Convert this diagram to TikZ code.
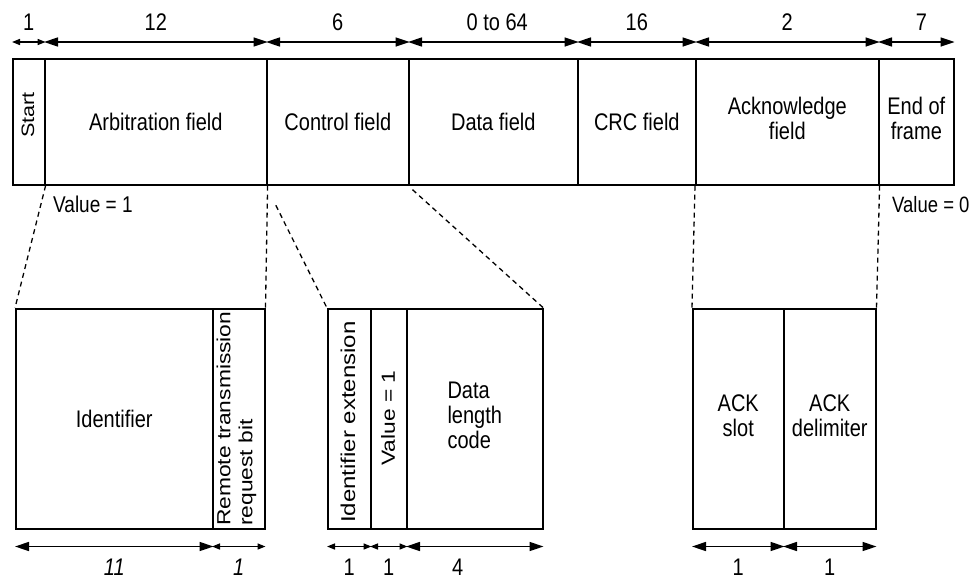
\documentclass[tikz,border=0pt]{standalone}
\usepackage{fontspec}
\setmainfont{Liberation Sans}
\usepackage{graphicx}
\usetikzlibrary{arrows.meta}
\newcommand\vs[1]{\scalebox{1}[1.2]{#1}}
\newcommand\hs[1]{\scalebox{1.2}[1]{#1}}
\newcommand\twol[2]{\vs{\begin{tabular}{@{}c@{}}#1\\#2\end{tabular}}}
\begin{document}
\begin{tikzpicture}[x=1pt,y=-1pt,
  box/.style={draw, line width=1.6pt, inner sep=0pt, anchor=north west, align=center,
    font=\fontsize{20}{21}\selectfont},
  sub/.style={box, line width=1.5pt},
  rtxt/.style={rotate=90, inner sep=0pt},
  num/.style={font=\fontsize{20}{21}\selectfont, inner sep=0pt},
  dimL/.style={line width=1.5pt, {Triangle[length=14pt,width=9pt]}-{Triangle[length=14pt,width=9pt]}},
  dimS/.style={line width=1.5pt, {Triangle[length=8pt,width=6pt]}-{Triangle[length=8pt,width=6pt]}},
  dashln/.style={line width=1.3pt, dash pattern=on 5pt off 4pt}]
\useasboundingbox (0,0) rectangle (974,579);
\fill[white] (0,0) rectangle (974,579);

% top frame
\node[box, minimum width=32pt,  minimum height=126pt] (start) at (12,58) {};
\node[box, minimum width=222pt, minimum height=126pt] (arb)   at (44,58) {\vs{Arbitration field}};
\node[box, minimum width=142pt, minimum height=126pt] (ctrl)  at (266,58) {\vs{Control field}};
\node[box, minimum width=169pt, minimum height=126pt] (data)  at (408,58) {\vs{Data field}};
\node[box, minimum width=118pt, minimum height=126pt] (crc)   at (577,58) {\vs{CRC field}};
\node[box, minimum width=183pt, minimum height=126pt] (ack)   at (695,58) {\twol{Acknowledge}{field}};
\node[box, minimum width=75pt,  minimum height=126pt] (eof)   at (878,58) {\twol{End of}{frame}};
\node[rtxt, font=\fontsize{18}{20}\selectfont] (starttxt) at (28,115) {\hs{Start}};

% top dimensions
\draw[dimS] ([yshift=16pt]start.north west) -- node[num, yshift=20pt] (n1) {\vs{1}} ([yshift=16pt]start.north east);
\draw[dimL] ([yshift=16pt]arb.north west) -- node[num, yshift=20pt] (n12) {\vs{12}} ([yshift=16pt]arb.north east);
\draw[dimL] ([yshift=16pt]ctrl.north west) -- node[num, yshift=20pt] (n6) {\vs{6}} ([yshift=16pt]ctrl.north east);
\draw[dimL] ([yshift=16pt]data.north west) -- node[num, yshift=20pt, xshift=4pt] (n64) {\vs{0 to 64}} ([yshift=16pt]data.north east);
\draw[dimL] ([yshift=16pt]crc.north west) -- node[num, yshift=20pt] (n16) {\vs{16}} ([yshift=16pt]crc.north east);
\draw[dimL] ([yshift=16pt]ack.north west) -- node[num, yshift=20pt] (n2) {\vs{2}} ([yshift=16pt]ack.north east);
\draw[dimL] ([yshift=16pt]eof.north west) -- node[num, yshift=20pt, xshift=5pt] (n7) {\vs{7}} ([yshift=16pt]eof.north east);

% value labels
\node[num, anchor=west, font=\fontsize{19}{20}\selectfont] (v1) at (53,204) {\vs{Value = 1}};
\node[num, anchor=west, font=\fontsize{18.5}{20}\selectfont] (v0) at (892,205) {\vs{Value = 0}};

% sub boxes
\node[sub, minimum width=197pt, minimum height=220pt] (ident) at (15,308) {\vs{Identifier}};
\node[sub, minimum width=52pt,  minimum height=220pt] (rtr)   at (212,308) {};
\node[sub, minimum width=43pt,  minimum height=220pt] (ide)   at (327,308) {};
\node[sub, minimum width=36pt,  minimum height=220pt] (val)   at (370,308) {};
\node[sub, minimum width=136pt, minimum height=220pt] (dlc)   at (406,308)
  {\vs{\begin{tabular}{@{}l@{}}Data\\length\\code\end{tabular}}};
\node[sub, minimum width=91pt,  minimum height=220pt] (slot)  at (692,308) {\twol{ACK}{slot}};
\node[sub, minimum width=92pt,  minimum height=220pt] (delim) at (783,308) {\twol{ACK}{delimiter}};

\node[rtxt, anchor=west, align=left, font=\fontsize{19}{22}\selectfont] (rtrtxt) at (237,526)
  {\hs{\begin{tabular}{@{}l@{}}Remote transmission\\request bit\end{tabular}}};
\node[rtxt, font=\fontsize{20}{22}\selectfont] (idetxt) at (348,422) {\hs{Identifier extension}};
\node[rtxt, font=\fontsize{19}{22}\selectfont] (valtxt) at (388,418) {\hs{Value = 1}};

% dashed connectors
\draw[dashln] (start.south east) -- (ident.north west);
\draw[dashln] (arb.south east) -- (rtr.north east);
\draw[dashln, shorten <=22pt] (ctrl.south west) -- (ide.north west);
\draw[dashln, shorten <=6pt] (data.south west) -- (dlc.north east);
\draw[dashln] (ack.south west) -- (slot.north west);
\draw[dashln] (ack.south east) -- (delim.north east);

% bottom dimensions
\draw[dimL] ([yshift=-17pt]ident.south west) -- node[num, yshift=-21pt] (b11) {\vs{\itshape 11}} ([yshift=-17pt]ident.south east);
\draw[dimS] ([yshift=-17pt]rtr.south west) -- node[num, yshift=-21pt] (b1a) {\vs{\itshape 1}} ([yshift=-17pt]rtr.south east);
\draw[dimS] ([yshift=-17pt]ide.south west) -- node[num, yshift=-21pt] (b1b) {\vs{1}} ([yshift=-17pt]ide.south east);
\draw[dimS] ([yshift=-17pt]val.south west) -- node[num, yshift=-21pt] (b1c) {\vs{1}} ([yshift=-17pt]val.south east);
\draw[dimL] ([yshift=-17pt]dlc.south west) -- node[num, yshift=-21pt, xshift=-17pt] (b4) {\vs{4}} ([yshift=-17pt]dlc.south east);
\draw[dimL] ([yshift=-17pt]slot.south west) -- node[num, yshift=-21pt] (b1d) {\vs{1}} ([yshift=-17pt]slot.south east);
\draw[dimL] ([yshift=-17pt]delim.south west) -- node[num, yshift=-21pt] (b1e) {\vs{1}} ([yshift=-17pt]delim.south east);
\end{tikzpicture}
\end{document}
